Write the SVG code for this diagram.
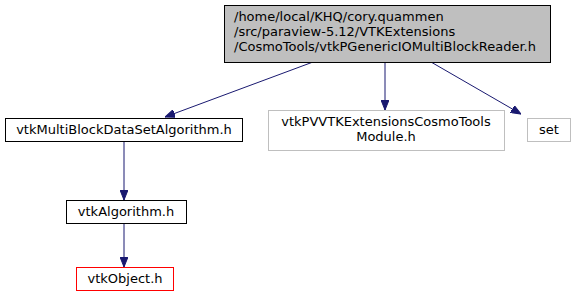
<svg xmlns="http://www.w3.org/2000/svg" width="576" height="305" viewBox="0 0 576 305">
  <style>
    text { font-family: "DejaVu Sans", "Liberation Sans", sans-serif; font-size: 13px; fill: #000; }
    .c { text-anchor: middle; }
    .box { fill: #fff; stroke: #000; stroke-width: 1; }
    .main { fill: #bfbfbf; stroke: #000; stroke-width: 1; }
    .ext { fill: #fff; stroke: #bfbfbf; stroke-width: 1; }
    .miss { fill: #fff; stroke: #ff0000; stroke-width: 1; }
    .edge { fill: none; stroke: #191970; stroke-width: 1; }
  </style>
  <defs>
    <marker id="arrow" viewBox="0 0 10 8" refX="10" refY="4" markerWidth="10" markerHeight="8" markerUnits="userSpaceOnUse" orient="auto">
      <path d="M0,0 L10,4 L0,8 Z" fill="#191970" stroke="#191970"/>
    </marker>
  </defs>

  <g id="edges">
    <path class="edge" d="M313,62 L165,117" marker-end="url(#arrow)"/>
    <path class="edge" d="M385,62 L385,110" marker-end="url(#arrow)"/>
    <path class="edge" d="M431,62 L521,114" marker-end="url(#arrow)"/>
    <path class="edge" d="M124,141 L124,200" marker-end="url(#arrow)"/>
    <path class="edge" d="M124,223 L124,267" marker-end="url(#arrow)"/>
  </g>

  <g id="node-reader">
    <rect class="main" x="224.5" y="5.5" width="326" height="57"/>
    <text x="234" y="21">/home/local/KHQ/cory.quammen</text>
    <text x="234" y="36">/src/paraview-5.12/VTKExtensions</text>
    <text x="234" y="51">/CosmoTools/vtkPGenericIOMultiBlockReader.h</text>
  </g>

  <g id="node-mbdsa">
    <rect class="box" x="5.5" y="118.5" width="237" height="23"/>
    <text class="c" x="124" y="134">vtkMultiBlockDataSetAlgorithm.h</text>
  </g>

  <g id="node-module">
    <rect class="ext" x="268.5" y="110.5" width="236" height="40"/>
    <text class="c" x="386" y="126">vtkPVVTKExtensionsCosmoTools</text>
    <text class="c" x="386" y="141">Module.h</text>
  </g>

  <g id="node-set">
    <rect class="ext" x="527.5" y="118.5" width="43" height="23"/>
    <text class="c" x="549" y="134">set</text>
  </g>

  <g id="node-algorithm">
    <rect class="box" x="66.5" y="200.5" width="120" height="23"/>
    <text class="c" x="126" y="216">vtkAlgorithm.h</text>
  </g>

  <g id="node-object">
    <rect class="miss" x="76.5" y="267.5" width="97" height="23"/>
    <text class="c" x="125" y="283">vtkObject.h</text>
  </g>
</svg>
